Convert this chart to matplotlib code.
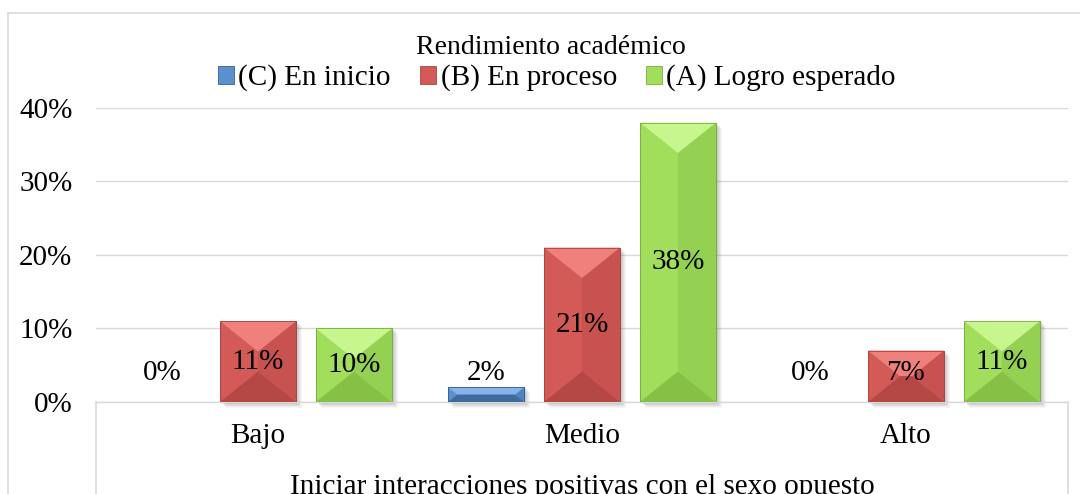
import matplotlib.pyplot as plt
import numpy as np
from matplotlib.lines import Line2D
from matplotlib.patches import Polygon

# data
categories = ["Bajo", "Medio", "Alto"]
series_names = ["(C) En inicio", "(B) En proceso", "(A) Logro esperado"]
en_inicio = [0, 2, 0]
en_proceso = [11, 21, 7]
logro_esperado = [10, 38, 11]
y_ticks = [0, 10, 20, 30, 40]
title = "Rendimiento académico"
outer_label = "Iniciar interacciones positivas con el sexo opuesto"

# (base, light top, dark bottom, right side, edge)
palette = [
    ("#5b8fd0", "#86b4ea", "#3f6aa0", "#5083c2", "#3a6090"),
    ("#d45a57", "#f0807c", "#b54745", "#c85250", "#a84442"),
    ("#a0de5c", "#c6f68d", "#86c145", "#94d052", "#7cad43"),
]

plt.rcParams["font.family"] = ["Liberation Serif", "DejaVu Serif"]

W, H = 1080, 494
fig = plt.figure(figsize=(W / 100, H / 100), dpi=100)
ax = fig.add_axes([96 / W, (H - 402) / H, (1068 - 96) / W, (402 - 107.8) / H])

x = np.arange(len(categories))
step = 0.296
width = 0.235
ax.set_xlim(-0.5, len(categories) - 0.5)
ax.set_ylim(0, 40)

ax.set_yticks(y_ticks)
ax.set_yticklabels([f"{t}%" for t in y_ticks], fontsize=21)
ax.yaxis.grid(True, color="#d9d9d9", linewidth=1.0)
ax.set_axisbelow(True)
ax.tick_params(axis="y", length=0, pad=17)
ax.set_xticks(x)
ax.set_xticklabels(categories, fontsize=21)
ax.tick_params(axis="x", length=0, pad=15)
for side in ["top", "right", "left"]:
    ax.spines[side].set_visible(False)
ax.spines["bottom"].set_color("#d9d9d9")
ax.spines["bottom"].set_linewidth(1.0)

to_px = ax.transData
to_data = ax.transData.inverted()


def poly(pts, **kw):
    ax.add_patch(Polygon(to_data.transform(pts), closed=True, **kw))


handles = []
for i, vals in enumerate([en_inicio, en_proceso, logro_esperado]):
    base, light, dark, right, edge = palette[i]
    pos = x + (i - 1) * step
    bars = ax.bar(pos, vals, width, color=base, edgecolor=edge, linewidth=0.6, zorder=3)
    handles.append(bars[0])
    for b, v in zip(bars, vals):
        if v <= 0:
            continue
        (x0, y0), (x1, y1) = to_px.transform([(b.get_x(), 0), (b.get_x() + b.get_width(), v)])
        # soft shadow to the right / below
        for k, a in [(6, 0.05), (5, 0.06), (4, 0.07), (3, 0.08), (2, 0.1)]:
            poly([(x0 + k, y0 - k), (x1 + k, y0 - k), (x1 + k, y1 - k + 1), (x0 + k, y1 - k + 1)],
                 facecolor="0.35", edgecolor="none", alpha=a, zorder=2, clip_on=False)
        # bevel faces, built in pixel space then mapped back to data
        w = x1 - x0
        dd = min(0.4 * w, (y1 - y0) / 2)
        ins = min(w / 2, dd * 1.25)
        top = [(x0, y1), (x1, y1), (x1 - ins, y1 - dd), (x0 + ins, y1 - dd)]
        bot = [(x0, y0), (x1, y0), (x1 - ins, y0 + dd), (x0 + ins, y0 + dd)]
        rgt = [(x1, y1), (x1, y0), (x1 - ins, y0 + dd), (x1 - ins, y1 - dd)]
        poly(rgt, facecolor=right, edgecolor="none", zorder=4)
        poly(top, facecolor=light, edgecolor="none", zorder=4)
        poly(bot, facecolor=dark, edgecolor="none", zorder=4)
        poly([(x0, y0), (x1, y0), (x1, y1), (x0, y1)], facecolor="none", edgecolor=edge,
             linewidth=0.6, zorder=5)
    for p, v in zip(pos, vals):
        ax.text(p, max(v / 2, 4), f"{v}%", ha="center", va="center", fontsize=21, zorder=6)

fig.text(551 / W, (H - 48) / H, title, ha="center", va="center", fontsize=20)
fig.legend(handles, series_names, loc="center", bbox_to_anchor=(557 / W, (H - 78) / H),
           ncol=3, frameon=False, fontsize=21, handlelength=0.55, handleheight=0.55,
           handletextpad=0.15, columnspacing=1.0, borderaxespad=0)

fig.text(582 / W, 0.5 / H, outer_label, ha="center", va="baseline", fontsize=21)

grey = "#d9d9d9"
for seg in [[(8, 13), (W, 13)], [(8, 13), (8, H)], [(96, 402), (96, H)], [(1068, 402), (1068, H)]]:
    (xa, ya), (xb, yb) = seg
    fig.add_artist(Line2D([xa / W, xb / W], [(H - ya) / H, (H - yb) / H],
                          transform=fig.transFigure, color=grey, linewidth=1.2))

fig.savefig("out.png", dpi=100)
